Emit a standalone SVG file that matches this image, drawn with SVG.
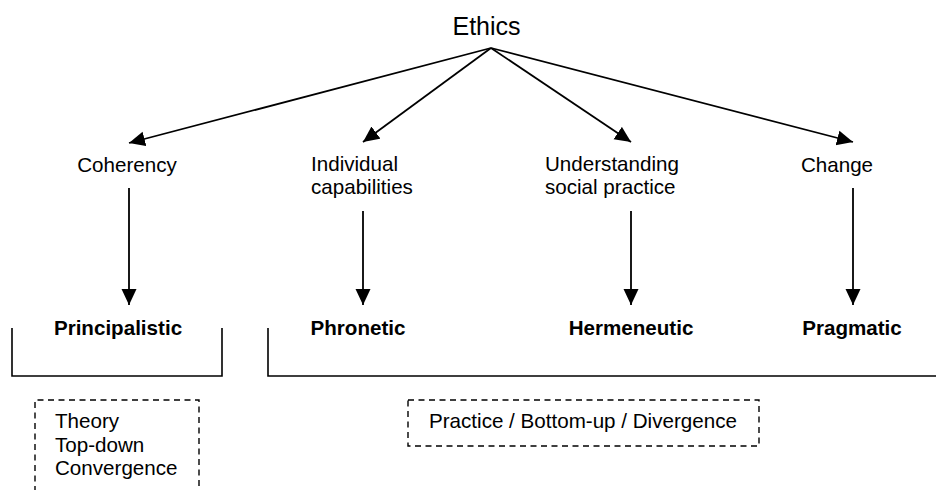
<svg xmlns="http://www.w3.org/2000/svg" width="936" height="490" viewBox="0 0 936 490">
<style>
text{font-family:"Liberation Sans",Arial,sans-serif;font-size:20.6px;fill:#000}
.b{font-weight:bold}
.c{text-anchor:middle}
.ln{stroke:#000;stroke-width:1.8;fill:none}
.br{stroke:#000;stroke-width:1.6;fill:none}
.dash{stroke:#000;stroke-width:1.4;fill:none;stroke-dasharray:6 4.5}
</style>
<defs>
<marker id="ah" markerUnits="userSpaceOnUse" markerWidth="17" markerHeight="17" viewBox="0 0 17 17" refX="16" refY="8" orient="auto">
<path d="M0,0.5 L16,8 L0,15.5 Z" fill="#000"/>
</marker>
</defs>
<rect width="936" height="490" fill="#fff"/>
<g id="ethics"><text x="486.5" y="35" class="c" style="font-size:25px">Ethics</text></g>
<g id="coherency"><text x="127" y="172" class="c">Coherency</text></g>
<g id="individual"><text x="311" y="171">Individual</text><text x="311" y="193.5">capabilities</text></g>
<g id="understanding"><text x="545" y="171">Understanding</text><text x="545" y="193.5">social practice</text></g>
<g id="change"><text x="837" y="172" class="c">Change</text></g>
<g id="principalistic"><text x="118" y="335" class="b c">Principalistic</text></g>
<g id="phronetic"><text x="358" y="335" class="b c">Phronetic</text></g>
<g id="hermeneutic"><text x="631" y="335" class="b c">Hermeneutic</text></g>
<g id="pragmatic"><text x="852" y="335" class="b c">Pragmatic</text></g>
<g id="brackets">
<path class="br" d="M12,328 V376 H222 V328"/>
<path class="br" d="M268,328 V376 H936"/>
</g>
<g id="theory-box">
<path class="dash" d="M35,492 V400 H199 V492"/>
<text x="55" y="428">Theory</text>
<text x="55" y="452">Top-down</text>
<text x="55" y="475">Convergence</text>
</g>
<g id="practice-box">
<rect class="dash" x="408" y="400" width="351" height="46"/>
<text x="429" y="428">Practice / Bottom-up / Divergence</text>
</g>
<g id="connectors">
<line class="ln" x1="491" y1="48" x2="129" y2="143" marker-end="url(#ah)"/>
<line class="ln" x1="491" y1="48" x2="363" y2="142" marker-end="url(#ah)"/>
<line class="ln" x1="491" y1="48" x2="631" y2="142" marker-end="url(#ah)"/>
<line class="ln" x1="491" y1="48" x2="853" y2="142" marker-end="url(#ah)"/>
<line class="ln" x1="129" y1="188" x2="129" y2="305" marker-end="url(#ah)"/>
<line class="ln" x1="363" y1="211" x2="363" y2="305" marker-end="url(#ah)"/>
<line class="ln" x1="631" y1="211" x2="631" y2="305" marker-end="url(#ah)"/>
<line class="ln" x1="853" y1="188" x2="853" y2="305" marker-end="url(#ah)"/>
</g>
</svg>
